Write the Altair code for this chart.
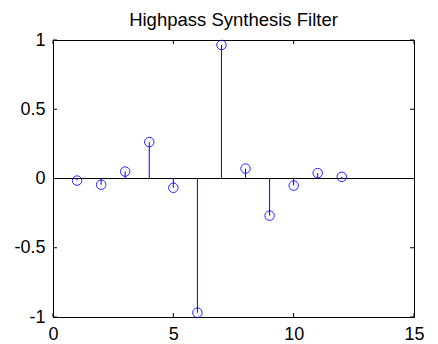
import altair as alt
import pandas as pd

n = [1, 2, 3, 4, 5, 6, 7, 8, 9, 10, 11, 12]
h = [-0.015, -0.045, 0.05, 0.263, -0.067, -0.969, 0.964, 0.072, -0.268, -0.051, 0.039, 0.012]
xticks = [0, 5, 10, 15]
yticks = [-1, -0.5, 0, 0.5, 1]
title_text = ["Highpass Synthesis Filter"]

W, H = 361, 277
TL = 4

df = pd.DataFrame({"n": n, "h": h, "zero": [0.0] * len(n)})
dfx = pd.DataFrame({"t": xticks})
dfy = pd.DataFrame({"t": yticks})
dfb = pd.DataFrame({"x0": [xticks[0]], "x1": [xticks[-1]], "y": [0.0]})
dft = pd.DataFrame({"title": title_text})

lbl = "datum.value < 0 ? '-' + format(-datum.value, '~g') : format(datum.value, '~g')"
xs = alt.Scale(domain=[0, 15], nice=False, zero=False)
ys = alt.Scale(domain=[-1, 1], nice=False, zero=False)

xaxis = alt.Axis(values=xticks, labelExpr=lbl, grid=False, ticks=False, domain=False,
                 labelFont="Liberation Sans", labelFontSize=18, labelColor="black",
                 labelPadding=8, title=None, labelFlush=False)
yaxis = alt.Axis(values=yticks, labelExpr=lbl, grid=False, ticks=False, domain=False,
                 labelFont="Liberation Sans", labelFontSize=18, labelColor="black",
                 labelPadding=8, title=None, labelFlush=False)

base_line = alt.Chart(dfb).mark_rule(color="black", strokeWidth=1).encode(
    x=alt.X("x0:Q", scale=xs, axis=xaxis), x2="x1:Q",
    y=alt.Y("y:Q", scale=ys, axis=yaxis))

stems = alt.Chart(df).mark_rule(color="#0000ff", strokeWidth=1).encode(
    x=alt.X("n:Q", scale=xs), y=alt.Y("h:Q", scale=ys), y2="zero:Q")

pts = alt.Chart(df).mark_point(shape="circle", filled=False, color="#0000ff",
                                size=90, strokeWidth=1, opacity=0.85).encode(
    x=alt.X("n:Q", scale=xs), y=alt.Y("h:Q", scale=ys))

xt_bot = alt.Chart(dfx).mark_rule(color="black").encode(
    x=alt.X("t:Q", scale=xs), y=alt.value(H), y2=alt.value(H - TL))
xt_top = alt.Chart(dfx).mark_rule(color="black").encode(
    x=alt.X("t:Q", scale=xs), y=alt.value(0), y2=alt.value(TL))
yt_l = alt.Chart(dfy).mark_rule(color="black").encode(
    y=alt.Y("t:Q", scale=ys), x=alt.value(0), x2=alt.value(TL))
yt_r = alt.Chart(dfy).mark_rule(color="black").encode(
    y=alt.Y("t:Q", scale=ys), x=alt.value(W), x2=alt.value(W - TL))

title = alt.Chart(dft).mark_text(font="Liberation Sans", fontSize=18.5, color="black",
                                 align="center", baseline="alphabetic").encode(
    text="title:N", x=alt.value(W / 2), y=alt.value(-14))

chart = alt.layer(base_line, stems, pts, xt_bot, xt_top, yt_l, yt_r, title).properties(
    width=W, height=H,
    padding={"left": 53, "top": 40, "right": 24, "bottom": 27},
    autosize=alt.AutoSizeParams(type="none"),
    background="white",
).configure_view(stroke="black", strokeWidth=1)

chart.save("out.html", embed_options={"renderer": "svg", "actions": False})
